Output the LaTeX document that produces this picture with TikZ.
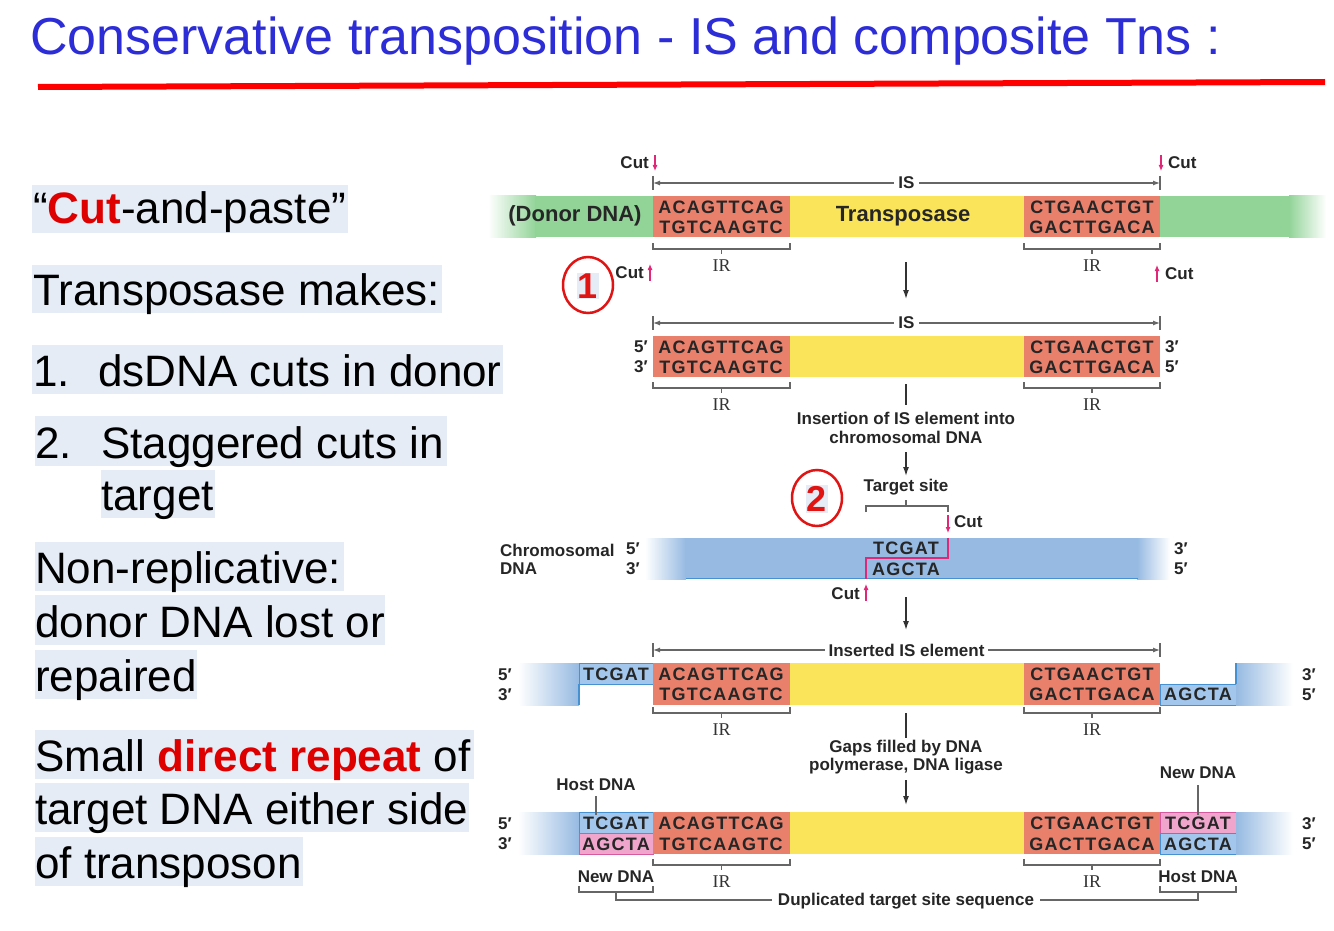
\documentclass[tikz,border=0pt]{standalone}
\usepackage{fontspec}
\setmainfont{Liberation Sans}
\newfontfamily\seqfont[LetterSpace=7]{Liberation Sans}
\newfontfamily\irfont{Liberation Serif}
\usetikzlibrary{arrows.meta}
\definecolor{dnagreen}{RGB}{146,212,152}
\definecolor{salmon}{RGB}{232,128,108}
\definecolor{tyellow}{RGB}{250,228,90}
\definecolor{chrblue}{RGB}{150,186,226}
\definecolor{boxblue}{RGB}{162,198,236}
\definecolor{chrline}{RGB}{70,145,210}
\definecolor{boxpink}{RGB}{240,165,205}
\definecolor{pinkline}{RGB}{215,90,160}
\definecolor{cutpink}{RGB}{225,40,120}
\definecolor{hl}{RGB}{230,236,245}
\definecolor{titleblue}{RGB}{45,45,215}
\definecolor{circred}{RGB}{225,20,20}
\definecolor{txtred}{RGB}{222,0,0}
\tikzset{
  x=1pt,y=-1pt,
  lbl/.style={font=\fontsize{17}{19}\selectfont\bfseries, inner sep=0pt, text=black!85},
  bigl/.style={font=\fontsize{22}{24}\selectfont\bfseries, inner sep=0pt, text=black!85},
  seqt/.style={font=\seqfont\fontsize{18}{20}\selectfont\bfseries, inner sep=0pt, text=black!85},
  irl/.style={font=\irfont\fontsize{18}{20}\selectfont, inner sep=0pt, text=black!80},
  prm/.style={font=\fontsize{17}{19}\selectfont\bfseries, inner sep=0pt, text=black!85},
  slide/.style={font=\fontsize{44}{50}\selectfont, inner sep=0pt, anchor=base west},
  conn/.style={draw=black!80, line width=1.3pt},
  arr/.style={conn, -{Latex[length=9pt,width=6pt]}},
  brk/.style={draw=black!60, line width=1.2pt},
  cutarr/.style={draw=cutpink, line width=1.1pt, -{Latex[length=6pt,width=5pt]}},
  numc/.style={draw=circred, line width=2.5pt},
  numt/.style={fill=hl, inner sep=1pt, text=circred, font=\fontsize{36}{40}\selectfont\bfseries}
}
\newcommand\irbracket[4]{%
  \draw[brk] (#1,#3-6) -- (#1,#3) -- (#2,#3) -- (#2,#3-6);
  \draw[brk] ({(#1+#2)/2},#3) -- ({(#1+#2)/2},#3+5);
  \node[irl] (#4) at ({(#1+#2)/2},#3+17) {IR};}
\newcommand\isarrow[5]{%
  \coordinate (#5L) at (#1,#3); \coordinate (#5R) at (#2,#3);
  \draw[brk,{Latex[length=7pt,width=5pt]}-{Latex[length=7pt,width=5pt]}] (#5L) -- (#5R);
  \draw[brk] (#1,#3-7) -- (#1,#3+7);
  \draw[brk] (#2,#3-7) -- (#2,#3+7);
  \node[lbl, fill=white, inner xsep=4pt, inner ysep=1pt] (#5) at ({(#1+#2)/2},#3) {#4};}
\begin{document}
\begin{tikzpicture}
\useasboundingbox (0,0) rectangle (1334,931);
\fill[white] (0,0) rectangle (1334,931);
% title
\node[anchor=base west, inner sep=0pt, text=titleblue, font=\fontsize{52}{60}\selectfont] (title) at (30,55) {Conservative transposition - IS and composite Tns :};
\draw[red, line width=6pt] (38,87) -- (1325,82);
% left text
\fill[hl] (32,185) rectangle (348,233);
\node[slide] (t1) at (33,223) {“\textcolor{txtred}{\bfseries Cut}-and-paste”};
\fill[hl] (32,265) rectangle (442,313);
\node[slide] (t2) at (33,305) {Transposase makes:};
\fill[hl] (32,345) rectangle (503,394);
\node[slide] (t3a) at (33,386) {1.};
\node[slide] (t3b) at (98,386) {dsDNA cuts in donor};
\fill[hl] (35,416) rectangle (447,466);
\node[slide] (t4a) at (35,458) {2.};
\node[slide] (t4b) at (101,458) {Staggered cuts in};
\fill[hl] (101,470) rectangle (215,518);
\node[slide] (t4c) at (101,510) {target};
\fill[hl] (35,542) rectangle (344,591);
\node[slide] (t5a) at (35,583) {Non-replicative:};
\fill[hl] (35,595) rectangle (385,645);
\node[slide] (t5b) at (35,637) {donor DNA lost or};
\fill[hl] (35,650) rectangle (197,699);
\node[slide] (t5c) at (35,691) {repaired};
\fill[hl] (35,730) rectangle (474,779);
\node[slide] (t6a) at (35,771) {Small \textcolor{txtred}{\bfseries direct repeat} of};
\fill[hl] (35,783) rectangle (469,832);
\node[slide] (t6b) at (35,824) {target DNA either side};
\fill[hl] (35,837) rectangle (303,886);
\node[slide] (t6c) at (35,878) {of transposon};

% ===== Row 1: donor =====
\shade[left color=white,right color=dnagreen] (488,196) rectangle (536,237);
\fill[dnagreen] (535,196) rectangle (653,237);
\fill[salmon] (653,196) rectangle (790,237);
\fill[tyellow] (790,196) rectangle (1024,237);
\fill[salmon] (1024,196) rectangle (1160,237);
\fill[dnagreen] (1160,196) rectangle (1290,237);
\shade[left color=dnagreen,right color=white] (1289,196) rectangle (1326,237);
\node[bigl] (donor) at (575,216) {(Donor DNA)};
\node[bigl] (tpase) at (903,216) {Transposase};
\node[seqt] (r1a) at (721,207) {ACAGTTCAG};
\node[seqt] (r1b) at (721,227) {TGTCAAGTC};
\node[seqt] (r1c) at (1092,207) {CTGAACTGT};
\node[seqt] (r1d) at (1092,227) {GACTTGACA};
\isarrow{653}{1160}{183}{IS}{is1}
\irbracket{653}{790}{249}{ir1a}
\irbracket{1024}{1160}{249}{ir1b}
\node[lbl, anchor=east] (cut1) at (649,163) {Cut};
\coordinate (c1s) at (655,155); \coordinate (c1e) at (655,171);
\draw[cutarr] (c1s) -- (c1e);
\node[lbl, anchor=west] (cut2) at (1168,163) {Cut};
\coordinate (c2s) at (1161,155); \coordinate (c2e) at (1161,171);
\draw[cutarr] (c2s) -- (c2e);
\node[lbl, anchor=east] (cut3) at (644,273) {Cut};
\coordinate (c3s) at (650,281); \coordinate (c3e) at (650,264);
\draw[cutarr] (c3s) -- (c3e);
\node[lbl, anchor=west] (cut4) at (1165,274) {Cut};
\coordinate (c4s) at (1157,282); \coordinate (c4e) at (1157,265);
\draw[cutarr] (c4s) -- (c4e);
\draw[numc] (588,285) ellipse [x radius=25pt, y radius=28pt];
\node[numt] (n1) at (588,286) {1};
\coordinate (a1s) at (906,262); \coordinate (a1e) at (906,299);
\draw[arr] (a1s) -- (a1e);

% ===== Row 2: excised IS =====
\fill[salmon] (653,336) rectangle (790,377);
\fill[tyellow] (790,336) rectangle (1024,377);
\fill[salmon] (1024,336) rectangle (1160,377);
\node[seqt] (r2a) at (721,347) {ACAGTTCAG};
\node[seqt] (r2b) at (721,367) {TGTCAAGTC};
\node[seqt] (r2c) at (1092,347) {CTGAACTGT};
\node[seqt] (r2d) at (1092,367) {GACTTGACA};
\node[prm] (p2a) at (641,347) {5′};
\node[prm] (p2b) at (641,367) {3′};
\node[prm] (p2c) at (1172,347) {3′};
\node[prm] (p2d) at (1172,367) {5′};
\isarrow{653}{1160}{323}{IS}{is2}
\irbracket{653}{790}{388}{ir2a}
\irbracket{1024}{1160}{388}{ir2b}
\coordinate (l2s) at (906,384);
\node[lbl, align=center, font=\fontsize{17}{18.5}\selectfont\bfseries] (ins) at (906,428) {Insertion of IS element into\\chromosomal DNA};
\draw[conn] (l2s) -- (906,405);
\draw[arr] (ins.south |- 0,452) -- (906,476);
\node[lbl] (tsite) at (906,487) {Target site};
\draw[brk] (866,512) -- (866,506) -- (948,506) -- (948,512);
\draw[brk] (906,506) -- (906,500);
\draw[numc] (817,498) ellipse [x radius=25pt, y radius=28pt];
\node[numt] (n2) at (817,499) {2};
\coordinate (c5s) at (948,515); \coordinate (c5e) at (948,533);
\draw[cutarr] (c5s) -- (c5e);
\node[lbl, anchor=west] (cut5) at (954,522) {Cut};

% ===== Row 3: chromosomal DNA =====
\shade[left color=white,right color=chrblue] (645,538) rectangle (686,579);
\fill[chrblue] (685,538) rectangle (1138,579);
\shade[left color=chrblue,right color=white] (1137,538) rectangle (1170,579);
\draw[chrline, line width=1.3pt] (686,578.5) -- (1138,578.5);
\node[seqt] (r3a) at (906,548) {TCGAT};
\node[seqt] (r3b) at (906,569) {AGCTA};
\draw[cutpink, line width=1.3pt] (948,538) -- (948,558) -- (866,558) -- (866,579);
\node[lbl, anchor=west] (chr1) at (500,550) {Chromosomal};
\node[lbl, anchor=west] (chr2) at (500,569) {DNA};
\node[prm] (p3a) at (633,549) {5′};
\node[prm] (p3b) at (633,569) {3′};
\node[prm] (p3c) at (1181,549) {3′};
\node[prm] (p3d) at (1181,569) {5′};
\coordinate (c6s) at (866,601); \coordinate (c6e) at (866,584);
\draw[cutarr] (c6s) -- (c6e);
\node[lbl, anchor=east] (cut6) at (860,594) {Cut};
\coordinate (a3s) at (906,597); \coordinate (a3e) at (906,630);
\draw[arr] (a3s) -- (a3e);

% ===== Row 4: inserted IS with gaps =====
\shade[left color=white,right color=chrblue] (518,663) rectangle (579,705);
\draw[chrline, line width=1.2pt] (579,684) -- (579,705);
\filldraw[fill=boxblue, draw=chrline, line width=1pt] (579,663) rectangle (653,684);
\fill[salmon] (653,663) rectangle (790,705);
\fill[tyellow] (790,663) rectangle (1024,705);
\fill[salmon] (1024,663) rectangle (1160,705);
\filldraw[fill=boxblue, draw=chrline, line width=1pt] (1160,684) rectangle (1236,705);
\shade[left color=chrblue,right color=white] (1236,663) rectangle (1293,705);
\draw[chrline, line width=1.2pt] (1236,663) -- (1236,684);
\node[seqt] (r4a) at (616,674) {TCGAT};
\node[seqt] (r4b) at (721,674) {ACAGTTCAG};
\node[seqt] (r4c) at (721,694) {TGTCAAGTC};
\node[seqt] (r4d) at (1092,674) {CTGAACTGT};
\node[seqt] (r4e) at (1092,694) {GACTTGACA};
\node[seqt] (r4f) at (1198,694) {AGCTA};
\node[prm] (p4a) at (505,675) {5′};
\node[prm] (p4b) at (505,695) {3′};
\node[prm] (p4c) at (1309,675) {3′};
\node[prm] (p4d) at (1309,695) {5′};
\isarrow{653}{1160}{650}{Inserted IS element}{is4}
\irbracket{653}{790}{713}{ir4a}
\irbracket{1024}{1160}{713}{ir4b}
\node[lbl, align=center, font=\fontsize{17}{18.5}\selectfont\bfseries] (gaps) at (906,757) {Gaps filled by DNA\\polymerase, DNA ligase};
\coordinate (l4s) at (906,713);
\draw[conn] (l4s) -- (906,738);
\coordinate (a4s) at (906,780); \coordinate (a4e) at (906,805);
\draw[arr] (a4s) -- (a4e);

% ===== Row 5: repaired =====
\shade[left color=white,right color=chrblue] (518,812) rectangle (579,854);
\filldraw[fill=boxblue, draw=chrline, line width=1pt] (579,812) rectangle (653,833);
\filldraw[fill=boxpink, draw=pinkline, line width=1pt] (579,833) rectangle (653,854);
\fill[salmon] (653,812) rectangle (790,854);
\fill[tyellow] (790,812) rectangle (1024,854);
\fill[salmon] (1024,812) rectangle (1160,854);
\filldraw[fill=boxpink, draw=pinkline, line width=1pt] (1160,812) rectangle (1236,833);
\filldraw[fill=boxblue, draw=chrline, line width=1pt] (1160,833) rectangle (1236,854);
\shade[left color=chrblue,right color=white] (1236,812) rectangle (1293,854);
\node[seqt] (r5a) at (616,823) {TCGAT};
\node[seqt] (r5b) at (616,844) {AGCTA};
\node[seqt] (r5c) at (721,823) {ACAGTTCAG};
\node[seqt] (r5d) at (721,844) {TGTCAAGTC};
\node[seqt] (r5e) at (1092,823) {CTGAACTGT};
\node[seqt] (r5f) at (1092,844) {GACTTGACA};
\node[seqt] (r5g) at (1198,823) {TCGAT};
\node[seqt] (r5h) at (1198,844) {AGCTA};
\node[prm] (p5a) at (505,824) {5′};
\node[prm] (p5b) at (505,844) {3′};
\node[prm] (p5c) at (1309,824) {3′};
\node[prm] (p5d) at (1309,844) {5′};
\node[lbl] (host1) at (596,785) {Host DNA};
\draw[brk] (596,796) -- (596,815);
\node[lbl] (new1) at (1198,773) {New DNA};
\draw[brk] (1198,785) -- (1198,815);
\irbracket{653}{790}{865}{ir5a}
\irbracket{1024}{1160}{865}{ir5b}
\node[lbl] (new2) at (616,877) {New DNA};
\node[lbl] (host2) at (1198,877) {Host DNA};
\draw[brk] (579,886) -- (579,892) -- (653,892) -- (653,886);
\draw[brk] (1160,886) -- (1160,892) -- (1236,892) -- (1236,886);
\node[lbl, inner xsep=6pt] (dup) at (906,901) {Duplicated target site sequence};
\draw[brk] (616,892) -- (616,900) -- (dup.west |- 0,900);
\draw[brk] (1198,892) -- (1198,900) -- (dup.east |- 0,900);
\end{tikzpicture}
\end{document}
